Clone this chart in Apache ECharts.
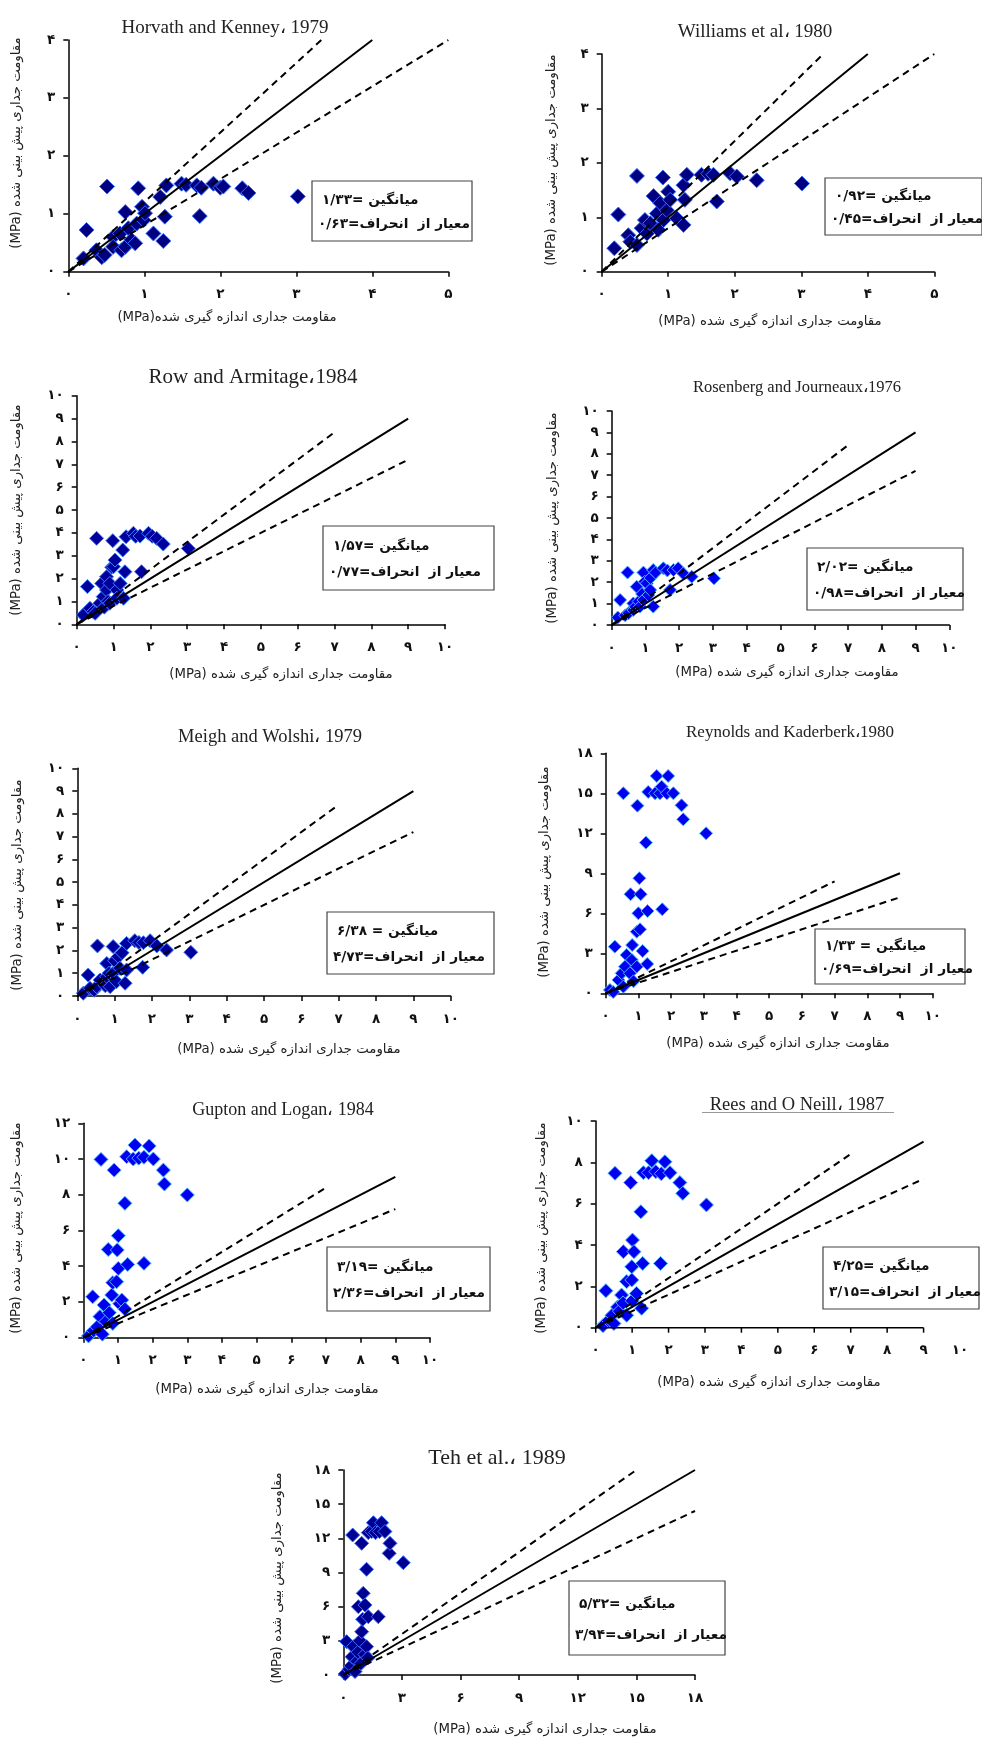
<!DOCTYPE html>
<html><head><meta charset="utf-8">
<script src="https://cdn.jsdelivr.net/npm/echarts@6/dist/echarts.min.js"></script>
<style>html,body{margin:0;padding:0;background:#fff}#c{width:982px;height:1742px}</style>
</head><body><div id="c"></div><script>
// ---------- DATA ----------
const faDigits = ['۰','۱','۲','۳','۴','۵','۶','۷','۸','۹'];
const titles = ['Horvath and Kenney، 1979','Williams et al، 1980','Row and Armitage،1984','Rosenberg and Journeaux،1976','Meigh and Wolshi، 1979','Reynolds and Kaderberk،1980','Gupton and Logan، 1984','Rees and O Neill، 1987','Teh et al.، 1989'];
const meanTexts = ['۱/۳۳','۰/۹۲','۱/۵۷','۲/۰۲','۶/۳۸ ','۱/۳۳ ','۳/۱۹','۴/۲۵','۵/۳۲'];
const sdTexts = ['۰/۶۳','۰/۴۵','۰/۷۷','۰/۹۸','۴/۷۳','۰/۶۹','۲/۳۶','۳/۱۵','۳/۹۴'];
const meanWords = ['میانگین'];
const sdWords = ['انحراف', 'از', 'معیار'];
const yNameText = '(MPa) مقاومت جداری پیش بینی شده';
const xNameText1 = '(MPa)مقاومت جداری اندازه گیری شده';
const xNameText = '(MPa) مقاومت جداری اندازه گیری شده';
const xMax = [5,5,10,10,10,10,10,10,18];
const yMax = [4,4,10,10,10,18,12,10,18];
const xInterval = [1,1,1,1,1,1,1,1,3];
const yInterval = [1,1,1,1,1,3,2,2,3];
const solidEnd = [[4,4],[4,4],[9,9],[9,9],[9,9],[9,9],[9,9],[9,9],[18,18]];
const upperEnd = [[3.33,4],[3.33,4],[7,8.4],[7,8.4],[7,8.4],[7,8.4],[7,8.4],[7,8.4],[15,18]];
const lowerEnd = [[5,4],[5,4],[9,7.2],[9,7.2],[9,7.2],[9,7.2],[9,7.2],[9,7.2],[18,14.4]];
const p8AxisTicks = [0,1,2,3,4,5,6,7,8,9];

const d1 = [[0.20,0.23],[0.24,0.72],[0.37,0.37],[0.44,0.25],[0.48,0.29],[0.51,1.47],[0.59,0.60],[0.59,0.43],[0.68,0.66],[0.70,0.37],[0.75,1.03],[0.75,0.43],[0.79,0.75],[0.83,0.55],[0.88,0.49],[0.90,0.83],[0.92,1.44],[0.97,1.12],[0.99,0.89],[1.01,1.01],[1.12,0.66],[1.21,1.29],[1.25,0.53],[1.27,0.95],[1.29,1.49],[1.49,1.52],[1.55,1.50],[1.69,1.49],[1.73,0.96],[1.75,1.45],[1.91,1.52],[2.00,1.45],[2.04,1.47],[2.29,1.44],[2.37,1.36],[3.02,1.30]];
const d2 = [[0.19,0.43],[0.25,1.05],[0.40,0.67],[0.43,0.55],[0.53,0.49],[0.53,1.76],[0.60,0.80],[0.65,0.95],[0.68,0.70],[0.73,0.89],[0.78,1.39],[0.83,1.07],[0.85,0.77],[0.88,1.26],[0.92,1.73],[0.93,0.95],[0.98,1.13],[1.00,1.47],[1.03,1.32],[1.13,0.98],[1.23,0.86],[1.23,1.59],[1.25,1.32],[1.28,1.78],[1.50,1.78],[1.60,1.80],[1.68,1.78],[1.73,1.29],[1.93,1.81],[2.03,1.75],[2.33,1.68],[3.01,1.62]];
const d3 = [[0.18,0.41],[0.29,1.65],[0.36,0.70],[0.45,0.55],[0.50,0.48],[0.54,3.76],[0.63,0.92],[0.68,1.79],[0.72,1.21],[0.75,0.75],[0.81,1.50],[0.81,2.08],[0.85,1.00],[0.90,1.79],[0.90,0.92],[0.95,2.50],[0.98,3.66],[1.00,2.52],[1.04,2.81],[1.09,1.50],[1.09,1.14],[1.18,1.79],[1.25,3.25],[1.27,1.14],[1.31,2.30],[1.34,3.83],[1.54,3.98],[1.60,3.85],[1.72,3.86],[1.76,2.30],[1.95,3.98],[2.05,3.85],[2.17,3.76],[2.35,3.51],[3.03,3.32]];
const d4 = [[0.18,0.35],[0.25,1.17],[0.40,0.45],[0.47,2.45],[0.50,0.55],[0.64,0.70],[0.64,1.01],[0.70,0.85],[0.74,1.79],[0.80,1.10],[0.84,0.86],[0.90,1.45],[0.94,2.45],[0.94,1.17],[0.98,2.02],[1.04,1.95],[1.09,1.40],[1.14,1.64],[1.15,2.20],[1.23,0.86],[1.23,2.57],[1.30,2.45],[1.53,2.65],[1.65,2.55],[1.73,1.64],[1.83,2.57],[1.97,2.65],[2.12,2.41],[2.37,2.26],[3.03,2.18]];
const d5 = [[0.16,0.12],[0.29,0.92],[0.34,0.34],[0.45,0.25],[0.52,0.41],[0.54,2.20],[0.61,0.70],[0.70,0.56],[0.75,0.45],[0.79,1.43],[0.79,0.85],[0.85,1.00],[0.88,0.41],[0.96,2.17],[0.96,1.00],[1.00,1.55],[1.05,0.63],[1.10,1.73],[1.14,1.22],[1.20,1.90],[1.28,0.56],[1.32,1.14],[1.32,2.31],[1.54,2.43],[1.65,2.35],[1.75,1.26],[1.77,2.34],[1.95,2.43],[2.13,2.20],[2.39,2.02],[3.04,1.92]];
const d6 = [[0.13,0.25],[0.23,0.10],[0.28,3.50],[0.39,1.00],[0.49,1.50],[0.54,0.50],[0.54,15.0],[0.59,2.00],[0.64,2.87],[0.74,1.50],[0.76,7.43],[0.80,2.50],[0.81,3.62],[0.85,0.90],[0.95,4.62],[0.95,2.00],[0.97,14.07],[1.00,6.00],[1.03,8.63],[1.05,4.80],[1.07,7.43],[1.13,3.17],[1.23,11.3],[1.27,2.20],[1.28,6.17],[1.30,15.1],[1.51,15.0],[1.56,16.3],[1.66,15.0],[1.71,15.5],[1.73,6.30],[1.87,15.0],[1.91,16.3],[2.07,15.0],[2.32,14.1],[2.37,13.05],[3.07,12.0]];
const d7 = [[0.15,0.10],[0.27,2.29],[0.30,0.40],[0.40,0.60],[0.48,1.18],[0.51,9.98],[0.55,0.20],[0.60,1.83],[0.65,0.90],[0.72,4.94],[0.75,1.40],[0.82,2.39],[0.85,3.08],[0.85,0.80],[0.89,9.38],[0.96,3.13],[0.98,4.91],[1.01,5.71],[1.01,3.88],[1.05,1.90],[1.11,2.11],[1.20,7.52],[1.20,1.60],[1.25,10.13],[1.28,4.10],[1.44,10.0],[1.49,10.78],[1.60,10.05],[1.75,4.16],[1.75,10.1],[1.90,10.73],[2.02,10.0],[2.31,9.38],[2.34,8.60],[3.00,7.99]];
const d8 = [[0.20,0.10],[0.28,1.79],[0.35,0.35],[0.45,0.60],[0.50,0.20],[0.53,7.47],[0.60,1.00],[0.65,0.80],[0.71,1.58],[0.76,3.68],[0.75,1.20],[0.85,2.23],[0.85,0.60],[0.96,7.02],[0.99,2.95],[0.99,2.31],[1.01,4.24],[1.05,3.68],[1.00,1.30],[1.12,1.66],[1.24,5.61],[1.26,0.94],[1.29,3.11],[1.31,7.50],[1.45,7.50],[1.54,8.08],[1.65,7.55],[1.78,3.11],[1.80,7.45],[1.90,8.03],[2.04,7.50],[2.31,7.02],[2.39,6.50],[3.04,5.94]];
const d9 = [[0.10,0.10],[0.17,2.93],[0.30,0.50],[0.40,0.80],[0.45,1.60],[0.48,12.29],[0.51,2.49],[0.60,0.30],[0.70,1.20],[0.77,6.00],[0.75,2.00],[0.85,3.00],[0.90,1.00],[0.94,11.56],[0.94,3.80],[0.99,4.89],[1.02,7.17],[1.10,1.80],[1.11,6.15],[1.19,2.49],[1.19,9.28],[1.25,1.50],[1.28,5.12],[1.28,12.5],[1.45,12.6],[1.54,13.37],[1.65,12.5],[1.79,5.12],[1.85,12.6],[1.96,13.37],[2.13,12.6],[2.35,10.68],[2.39,11.56],[3.07,9.86]];
const panelData = [d1,d2,d3,d4,d5,d6,d7,d8,d9];

// ---------- LAYOUT / STYLE ----------
const grids = [
  [68.3,40,380,231.7],[601.7,54,332.6,217.7],
  [76.7,395.7,368.3,228.6],[611.7,411,337.6,214],
  [77.3,768.3,373.4,227.7],[605.7,753.3,327,240],
  [83.3,1123.3,346.7,214.4],[595.7,1121,364.3,206.7],
  [343.3,1470,351.7,205]
];
const titlePos = [[220,23],[750,27],[248,372],[792,383],[265,732],[785,728],[278,1105],[792,1100],[492,1453]];
const titleSize = [19,19,21,16.5,18.5,17,18,18.5,22];
const yNamePos = [[17,143],[552,160],[17,510],[553,518],[18,885],[545,872],[17,1228],[542,1228],[278,1578]];
const xNamePos = [[227,318],[770,322],[281,675],[787,673],[289,1050],[778,1044],[267,1390],[769,1383],[545,1730]];
const boxes = [[312,181,160,60],[825,178,157,57],[323,526,171,64],[807,548,156,62],[327,912,167,62],[815,929,150,55],[327,1247,163,64],[823,1247,156,62],[569,1581,156,74]];
const colors = [['#000080','#3a6cff'],['#000080','#3a6cff'],['#00009c','#3a7cff'],['#0000f0','#4fb0ff'],['#00009c','#3a7cff'],['#0000f0','#4fb0ff'],['#0000f0','#4fb0ff'],['#0000f0','#4fb0ff'],['#000090','#3a6cff']];
const symSizes = [15,15,14,13,14,13,14,14,14];

function fa(v){ return String(v).split('').map(c => (c>='0'&&c<='9') ? faDigits[+c] : c).join(''); }
function tok(s){ return '{t|' + s + '}'; }

const option = { animation:false, backgroundColor:'#fff', grid:[], xAxis:[], yAxis:[], series:[], title:[], graphic:[] };
const axisCommon = {
  axisLine:{show:true, onZero:false, lineStyle:{color:'#000', width:1.5}},
  axisTick:{show:true, length:5, lineStyle:{color:'#000', width:1.5}},
  splitLine:{show:false},
  axisLabel:{color:'#111', fontFamily:'DejaVu Sans', fontWeight:'bold', fontSize:13.5, formatter:fa}
};
const legendFont = {fontFamily:'DejaVu Sans', fontWeight:'bold', fontSize:13.7, fill:'#111'};
for (let i=0;i<9;i++){
  const g = grids[i];
  option.grid.push({left:g[0], top:g[1], width:g[2], height:g[3]});
  option.xAxis.push(Object.assign({}, axisCommon, {type:'value', gridIndex:i, min:0, max:xMax[i], interval:xInterval[i],
    axisLine: i===7 ? {show:false} : axisCommon.axisLine,
    axisTick: i===7 ? {show:false} : axisCommon.axisTick,
    axisLabel: Object.assign({}, axisCommon.axisLabel, {margin:16})}));
  option.yAxis.push(Object.assign({}, axisCommon, {type:'value', gridIndex:i, min:0, max:yMax[i], interval:yInterval[i],
    axisLabel: Object.assign({}, axisCommon.axisLabel, {margin:13})}));
  option.series.push({type:'scatter', xAxisIndex:i, yAxisIndex:i, data:panelData[i], symbol:'diamond', symbolSize:symSizes[i],
    itemStyle:{color:colors[i][0], borderColor:colors[i][1], borderWidth:1, opacity:1}, z:2, clip:false});
  option.series.push({type:'line', xAxisIndex:i, yAxisIndex:i, data:[[0,0],solidEnd[i]], symbol:'none', lineStyle:{color:'#000', width:2}, z:3});
  option.series.push({type:'line', xAxisIndex:i, yAxisIndex:i, data:[[0,0],upperEnd[i]], symbol:'none', lineStyle:{color:'#000', width:2, type:[7,5]}, z:3});
  option.series.push({type:'line', xAxisIndex:i, yAxisIndex:i, data:[[0,0],lowerEnd[i]], symbol:'none', lineStyle:{color:'#000', width:2, type:[7,5]}, z:3});
  option.title.push({text:titles[i], left:titlePos[i][0], top:titlePos[i][1], textAlign:'center', textVerticalAlign:'middle',
    textStyle:{fontFamily:'Liberation Serif', fontWeight:'normal', fontSize:titleSize[i], color:'#222'}});
  option.graphic.push({type:'text', x:yNamePos[i][0], y:yNamePos[i][1], rotation:Math.PI/2,
    style:{text:yNameText, align:'center', verticalAlign:'middle', font:'13.3px "DejaVu Sans"', fill:'#222'}});
  option.graphic.push({type:'text', x:xNamePos[i][0], y:xNamePos[i][1],
    style:{text: i===0 ? xNameText1 : xNameText, align:'center', verticalAlign:'middle', font:'13.3px "DejaVu Sans"', fill:'#222'}});
  const b = boxes[i];
  option.graphic.push({type:'rect', shape:{x:b[0], y:b[1], width:b[2], height:b[3]}, style:{fill:'#fff', stroke:'#444', lineWidth:1.2}, z:10});
  const line1 = tok(meanTexts[i] + '=') + tok(' ') + tok(meanWords[0]);
  const line2 = tok(sdTexts[i] + '=') + tok(sdWords[0]) + tok('  ') + tok(sdWords[1]) + tok(' ') + tok(sdWords[2]);
  option.graphic.push({type:'text', x:b[0]+10, y:b[1]+b[3]*0.32, z:11,
    style:Object.assign({text: line1, align:'left', verticalAlign:'middle', rich:{t:legendFont}}, legendFont)});
  option.graphic.push({type:'text', x:b[0]+6, y:b[1]+b[3]*0.73, z:11,
    style:Object.assign({text: line2, align:'left', verticalAlign:'middle', rich:{t:legendFont}}, legendFont)});
}
// panel 8: x axis line only runs to 9
option.series.push({type:'line', xAxisIndex:7, yAxisIndex:7, data:[[0,0],[p8AxisTicks[p8AxisTicks.length-1],0]], symbol:'none', lineStyle:{color:'#000', width:1.5}, z:4, clip:false});
option.series.push({type:'scatter', xAxisIndex:7, yAxisIndex:7, data:p8AxisTicks.map(v=>[v,0]), symbol:'rect', symbolSize:[1.5,5], symbolOffset:[0,2.5], itemStyle:{color:'#000', opacity:1}, z:4, clip:false, silent:true});
// panel 8 title underline
option.graphic.push({type:'line', shape:{x1:702, y1:1112.5, x2:894, y2:1112.5}, style:{stroke:'#999', lineWidth:1}});

const chart = echarts.init(document.getElementById('c'), null, {renderer:'canvas'});
chart.setOption(option);
</script></body></html>
